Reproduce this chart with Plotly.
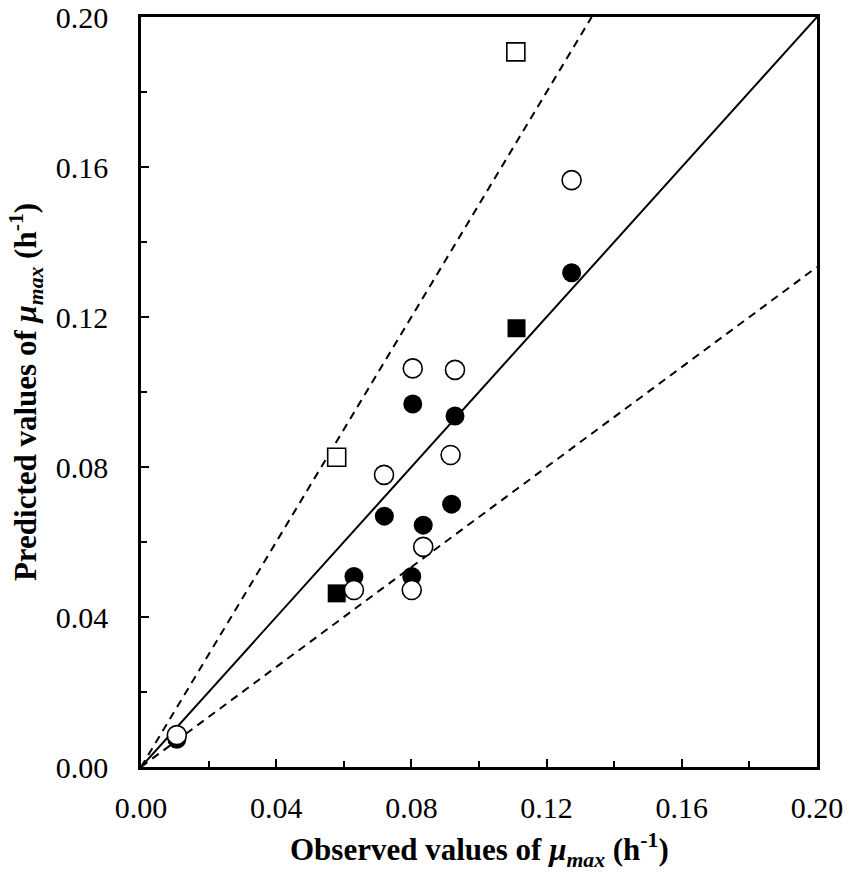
import plotly.graph_objects as go

# observed vs predicted mu_max (h^-1)
filled_circ_x = [0.0106, 0.0630, 0.0720, 0.0801, 0.0804, 0.0835, 0.0919, 0.0929, 0.1274]
filled_circ_y = [0.0074, 0.0508, 0.0669, 0.0508, 0.0968, 0.0645, 0.0701, 0.0936, 0.1318]

open_circ_x = [0.0106, 0.0630, 0.0719, 0.0801, 0.0804, 0.0835, 0.0916, 0.0929, 0.1274]
open_circ_y = [0.0085, 0.0472, 0.0779, 0.0472, 0.1063, 0.0587, 0.0832, 0.1059, 0.1565]

filled_sq_x = [0.0579, 0.1111]
filled_sq_y = [0.0463, 0.1170]

open_sq_x = [0.0579, 0.1109]
open_sq_y = [0.0826, 0.1907]

tick_vals = [0.00, 0.04, 0.08, 0.12, 0.16, 0.20]
tick_text = ["0.00", "0.04", "0.08", "0.12", "0.16", "0.20"]

# line of equality and the +/- 50% bounds
slopes = [1.0, 1.5, 1 / 1.5]
ax_max = 0.20

x_title = "<b>Observed values of <i>μ</i><sub><i>max</i></sub> (h<sup>-1</sup>)</b>"
y_title = "<b>Predicted values of <i>μ</i><sub><i>max</i></sub> (h<sup>-1</sup>)</b>"

fig = go.Figure()

for s in slopes:
    x_end = min(ax_max, ax_max / s)
    fig.add_trace(go.Scatter(
        x=[0, x_end], y=[0, x_end * s], mode="lines",
        line=dict(color="black", width=2, dash="solid" if s == 1.0 else "8px,6px"),
        showlegend=False, hoverinfo="skip"))

fig.add_trace(go.Scatter(x=filled_sq_x, y=filled_sq_y, mode="markers",
                         marker=dict(symbol="square", size=18, color="black"),
                         showlegend=False))
fig.add_trace(go.Scatter(x=filled_circ_x, y=filled_circ_y, mode="markers",
                         marker=dict(symbol="circle", size=19, color="black"),
                         showlegend=False))
fig.add_trace(go.Scatter(x=open_circ_x, y=open_circ_y, mode="markers",
                         marker=dict(symbol="circle", size=19, color="white",
                                     line=dict(color="black", width=1.6)),
                         showlegend=False))
fig.add_trace(go.Scatter(x=open_sq_x, y=open_sq_y, mode="markers",
                         marker=dict(symbol="square", size=18, color="white",
                                     line=dict(color="black", width=1.6)),
                         showlegend=False))

tick_font = dict(family="Liberation Serif", size=30, color="black")
title_font = dict(family="Liberation Serif", size=31, color="black")

axis_common = dict(
    range=[0, ax_max], tickmode="array", tickvals=tick_vals, ticktext=tick_text,
    ticks="inside", ticklen=8, tickwidth=2, tickcolor="black",
    minor=dict(tickmode="linear", tick0=0, dtick=0.02, ticks="inside",
               ticklen=6, tickwidth=2, tickcolor="black"),
    showline=True, linewidth=2.5, linecolor="black", mirror=True,
    showgrid=False, zeroline=False, automargin=False,
    ticklabeloverflow="allow", tickfont=tick_font,
)

# page body has an 8px margin, so the figure is offset by 8px
fig.update_layout(
    template="none",
    width=843, height=862, autosize=False,
    margin=dict(l=133, r=34, t=9, b=103),
    plot_bgcolor="white", paper_bgcolor="white",
    xaxis=dict(axis_common, ticklabelstandoff=12),
    yaxis=dict(axis_common, ticklabelstandoff=24),
    annotations=[
        dict(text=x_title, xref="paper", yref="paper", x=0.5, y=-0.111,
             xanchor="center", yanchor="middle", showarrow=False, font=title_font),
        dict(text=y_title, xref="paper", yref="paper", x=-0.17, y=0.5,
             xanchor="center", yanchor="middle", textangle=-90,
             showarrow=False, font=title_font),
    ],
)

fig.write_html("out.html")
